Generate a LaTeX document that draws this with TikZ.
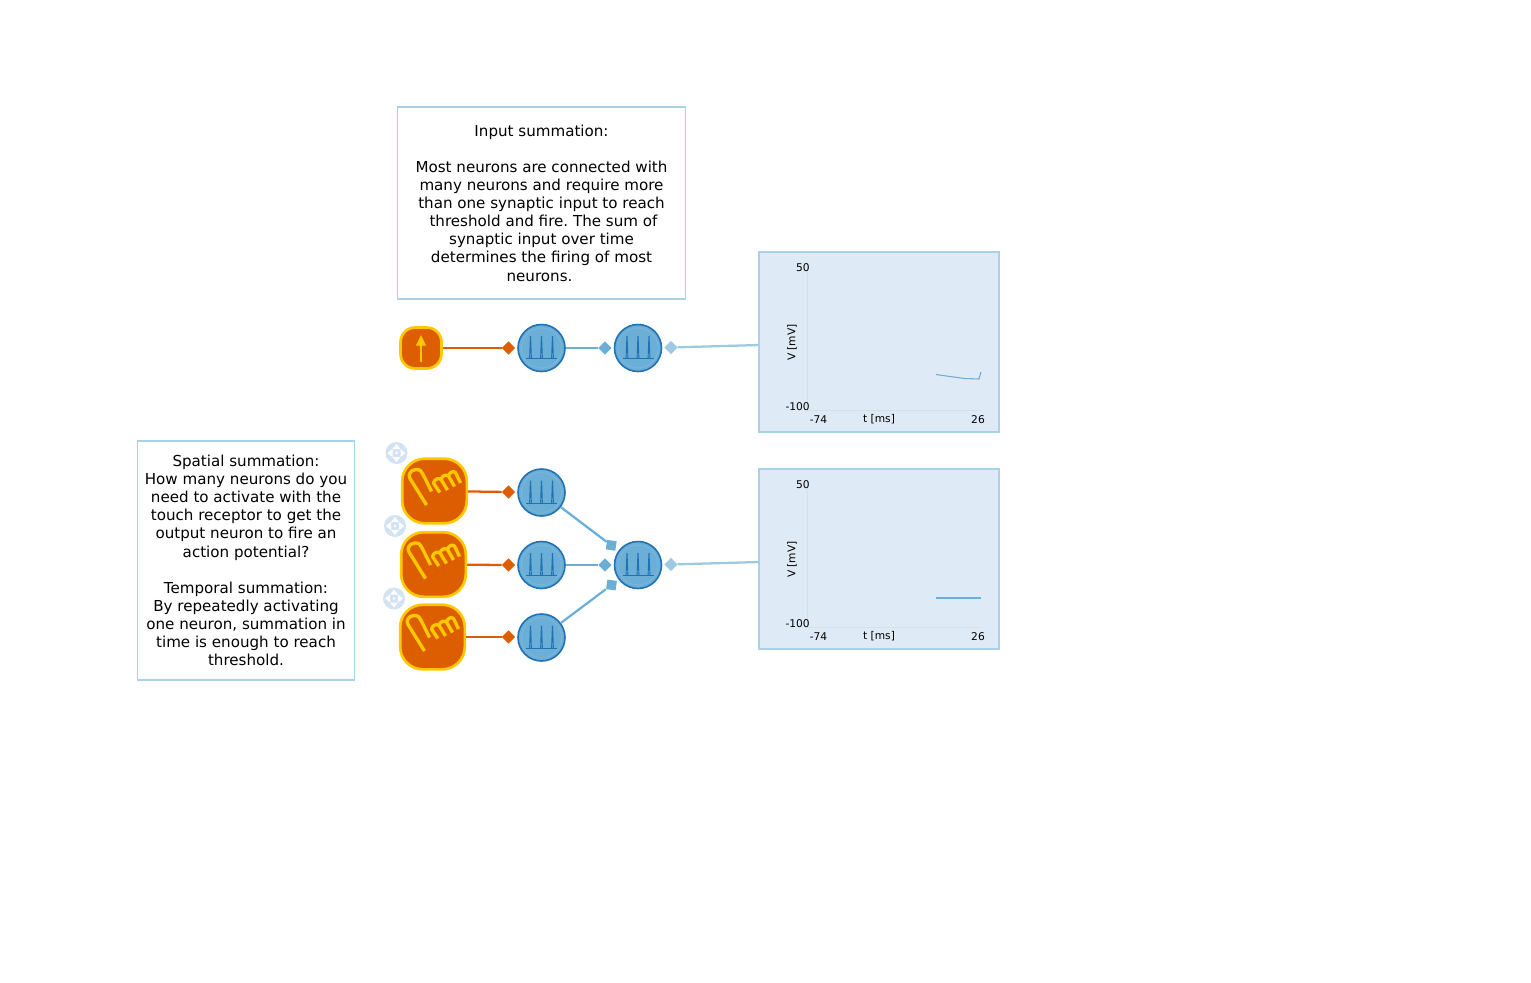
\documentclass[tikz,border=0pt]{standalone}
\usepackage{fontspec}
\setmainfont{DejaVu Sans}
\usetikzlibrary{shapes.geometric}
\frenchspacing
\definecolor{tileor}{HTML}{DD5E00}
\definecolor{tileyl}{HTML}{FFC800}
\definecolor{cellfill}{HTML}{6BAED6}
\definecolor{cellring}{HTML}{78B5DB}
\definecolor{celledge}{HTML}{2171B5}
\definecolor{lightblue}{HTML}{9ECAE1}
\definecolor{boxedge}{HTML}{A9D1E8}
\definecolor{plotfill}{HTML}{DEEAF6}
\definecolor{plotaxis}{HTML}{D5E1E6}
\definecolor{handlefill}{HTML}{D3E3F3}
\tikzset{
  note/.style={draw=boxedge,fill=white,line width=1.1pt,inner sep=0pt,align=center,font=\fontsize{11.33pt}{13.58pt}\selectfont,text=black},
  cell/.style={circle,draw=celledge,fill=cellfill,line width=1.2pt,minimum size=35.25pt,inner sep=0pt},
  tilebig/.style={rectangle,rounded corners=17pt,draw=tileyl,fill=tileor,line width=2pt,inner sep=0pt,minimum size=48.5pt},
  tilesmall/.style={rectangle,rounded corners=11pt,draw=tileyl,fill=tileor,line width=2pt,inner sep=0pt,minimum size=30.75pt},
  dmd/.style={diamond,fill=#1,minimum size=10pt,inner sep=0pt},
  sqr/.style={rectangle,fill=cellfill,minimum size=7.2pt,inner sep=0pt},
  wireor/.style={draw=tileor,line width=1.7pt},
  wirebl/.style={draw=cellfill,line width=1.7pt},
  wirelt/.style={draw=lightblue,line width=1.7pt},
  plotbox/.style={rectangle,draw=boxedge,fill=plotfill,line width=1.1pt,minimum width=180pt,minimum height=135pt,inner sep=0pt},
  plottxt/.style={font=\fontsize{8pt}{10pt}\selectfont,text=black,inner sep=0pt},
  handle/.style={circle,fill=handlefill,minimum size=16.5pt,inner sep=0pt},
  spike/.style={draw=celledge,line width=0.7pt},
  handline/.style={draw=tileyl,line width=2.5pt,line cap=butt,line join=round},
  axisline/.style={draw=plotaxis,line width=0.6pt},
  trace/.style={draw=cellfill,line width=0.8pt},
}
\newcommand{\spikesat}[1]{%
  \begin{scope}[shift={(#1)}]
    \draw[cellring,line width=0.8pt] (0,0) circle (20);
    \draw[spike] (-15.5,10.5) -- (15.5,10.5);
    \foreach \sx in {-11,0,11}{
      \draw[spike] (\sx-0.9,10.5) -- (\sx-0.1,-11.5) -- (\sx+0.1,-11.5) -- (\sx+0.9,10.5);
    }
  \end{scope}}
\newcommand{\handat}[1]{%
  \begin{scope}[shift={(#1)}]
    \draw[handline] (-8,14) -- (-24.5,-12.5) .. controls (-28,-20) and (-19,-23) .. (-15,-21) .. controls (-13,-20) and (-12,-18) .. (-3,0.5);
    \draw[handline] (5.3,1.5) -- (-1,-8) .. controls (0,-12) and (4,-13.5) .. (6.5,-11.5) -- (13,-1);
    \draw[handline] (6.5,-11.5) .. controls (7.5,-15.5) and (11.5,-17) .. (14,-15) -- (20,-4.5);
    \draw[handline] (14,-15) .. controls (15,-19) and (19,-20.5) .. (21,-18.5) -- (26,-8);
  \end{scope}}
\newcommand{\handleat}[2]{%
  \node[handle] (#1) at (#2) {};
  \begin{scope}[shift={(#2)}]
    \fill[white] (0,-9) -- (4,-4) -- (-4,-4) -- cycle;
    \fill[white] (0,9) -- (4,4) -- (-4,4) -- cycle;
    \fill[white] (-9,0) -- (-4,4) -- (-4,-4) -- cycle;
    \fill[white] (9,0) -- (4,4) -- (4,-4) -- cycle;
    \fill[white] (0,0) circle (1.4);
  \end{scope}}
\newcommand{\plotpanel}[2]{%
  \node[plotbox] (#1) at (879,#2) {};
  \begin{scope}[shift={(879,#2)}]
    \draw[axisline] (-72,-80) -- (-72,68) -- (102,68);
    \node[plottxt,anchor=east] (#1top) at (-69,-74.5) {50};
    \node[plottxt,anchor=east] (#1bot) at (-69,65) {-100};
    \node[plottxt,rotate=90] (#1v) at (-87,0.5) {V [mV]};
    \node[plottxt] (#1tl) at (-60.5,77.5) {-74};
    \node[plottxt] (#1tm) at (0,77.5) {t [ms]};
    \node[plottxt] (#1tr) at (99,77.5) {26};
  \end{scope}}
\begin{document}
\begin{tikzpicture}[x=0.75pt,y=-0.75pt]
\useasboundingbox (0,0) rectangle (1531,982);
\fill[white] (0,0) rectangle (1531,982);

% notes
\node[note,minimum width=216pt,minimum height=144pt] (noteA) at (541.5,203) {Input summation:\\[13.58pt]Most neurons are connected with\\many neurons and require more\\than one synaptic input to reach\\\kern3pt threshold and fire. The sum of\\synaptic input over time\\determines the firing of most\\neurons.\kern3pt};
\node[note,minimum width=162.75pt,minimum height=179.25pt] (noteB) at (246,560.5) {Spatial summation:\\How many neurons do you\\need to activate with the\\touch receptor to get the\\output neuron to fire an\\action potential?\\[13.58pt]Temporal summation:\\By repeatedly activating\\one neuron, summation in\\time is enough to reach\\threshold.};

% plots
\plotpanel{plotA}{342}
\plotpanel{plotB}{559}
\draw[trace] (936,374.5) -- (950,376.5) -- (965,378.5) -- (979,379) -- (981,372);
\draw[trace] (936,598) -- (981,598);
\coordinate (plotAin) at (759,345);
\coordinate (plotBin) at (759,562);

% cells
\node[cell] (c1) at (541.5,348) {};
\node[cell] (c2) at (638,348) {};
\node[cell] (c3) at (541.5,492.5) {};
\node[cell] (c4) at (541.5,565) {};
\node[cell] (c5) at (541.5,637.5) {};
\node[cell] (c6) at (638,565) {};
\spikesat{541.5,348}
\spikesat{638,348}
\spikesat{541.5,492.5}
\spikesat{541.5,565}
\spikesat{541.5,637.5}
\spikesat{638,565}

% handles
\handleat{h1}{396.5,453}
\handleat{h2}{395,526}
\handleat{h3}{394,598.5}

% stimulus tiles
\node[tilesmall] (t0) at (421,348) {};
\draw[tileyl,line width=2pt] (421,362) -- (421,342);
\fill[tileyl] (421,335) -- (426,345.5) -- (416,345.5) -- cycle;
\node[tilebig] (t1) at (434.5,491) {};
\node[tilebig] (t2) at (433.5,564.5) {};
\node[tilebig] (t3) at (432.5,637) {};
\handat{434.5,491}
\handat{433.5,564.5}
\handat{432.5,637}

% terminals
\node[dmd=tileor] (d1) at (508.5,348) {};
\node[dmd=tileor] (d2) at (508.5,492) {};
\node[dmd=tileor] (d3) at (508.5,565) {};
\node[dmd=tileor] (d4) at (508.5,637) {};
\node[dmd=cellfill] (d5) at (605,348) {};
\node[dmd=cellfill] (d6) at (605,565) {};
\node[dmd=lightblue] (d7) at (671,347.5) {};
\node[dmd=lightblue] (d8) at (671,564.5) {};
\node[sqr,rotate=-8] (s1) at (611.2,545.3) {};
\node[sqr,rotate=-8] (s2) at (611.5,585) {};

% connectors
\draw[wireor] (t0) -- (d1);
\draw[wireor] (t1) -- (d2);
\draw[wireor] (t2) -- (d3);
\draw[wireor] (t3) -- (d4);
\draw[wirebl] (c1) -- (d5);
\draw[wirebl] (c4) -- (d6);
\draw[wirebl] (c3) -- (s1);
\draw[wirebl] (c5) -- (s2);
\draw[wirelt] (d7) -- (plotAin);
\draw[wirelt] (d8) -- (plotBin);
\end{tikzpicture}
\end{document}
